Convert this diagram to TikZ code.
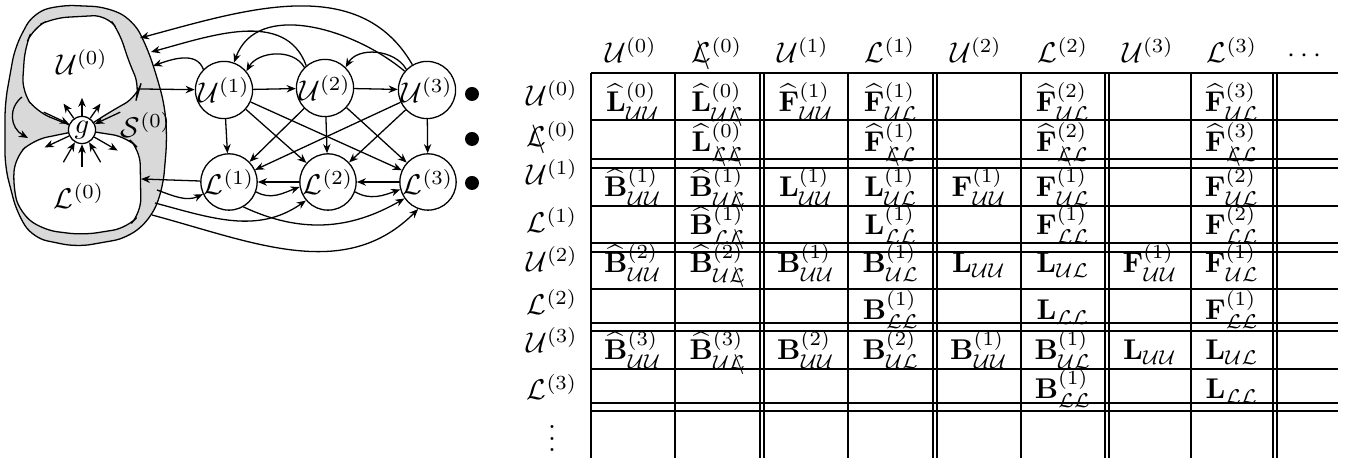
\documentclass[tikz,border=0pt]{standalone}
\usepackage{amsmath,amssymb,mathtools}
\usepackage{tikz}
\usetikzlibrary{arrows.meta,positioning,calc}

\newcommand{\Ucal}{\mathcal{U}}
\newcommand{\Lcal}{\mathcal{L}}
\newcommand{\Lcut}{\mathrlap{\mkern3mu{\setminus}}\mathcal{L}}
\newcommand{\Lhat}{\widehat{\mathbf{L}}}
\newcommand{\Fhat}{\widehat{\mathbf{F}}}
\newcommand{\Bhat}{\widehat{\mathbf{B}}}
\newcommand{\Lbf}{\mathbf{L}}
\newcommand{\Fbf}{\mathbf{F}}
\newcommand{\Bbf}{\mathbf{B}}

\begin{document}
\begin{tikzpicture}[x=0.35pt,y=0.35pt,
    blob/.style={circle, draw, fill=white, line width=0.45pt, minimum size=18.5pt, inner sep=0pt},
    gnode/.style={circle, draw, fill=white, line width=0.45pt, minimum size=9.5pt, inner sep=0pt},
    arr/.style={-{Stealth[length=3.2pt,width=2.6pt]}, line width=0.45pt},
    blobarea/.style={draw, line width=0.45pt, rounded corners=5pt},
    cell/.style={anchor=base, inner sep=0pt},
    tabline/.style={line width=0.7pt},
    bullet/.style={circle, fill, minimum size=4.9pt, inner sep=0pt},
]
    \useasboundingbox (0,0) rectangle (1346,-458);

    % the block S^(0) with its parts U^(0) and L^(0)
    \draw[blobarea, fill=black!15] (33,-13) -- (60,-5) -- (107,-7) -- (133,-20) -- (147,-47) -- (157,-77) -- (165,-107) -- (167,-140) -- (163,-187) -- (152,-217) -- (128,-238) -- (77,-247) -- (33,-238) -- (17,-213) -- (5,-167) -- (5,-103) -- (15,-47) -- cycle;
    \draw[blobarea, fill=white] (22,-92) -- (25,-47) -- (33,-28) -- (53,-18) -- (107,-15) -- (120,-33) -- (128,-60) -- (140,-87) -- (137,-97) -- (113,-110) -- (82,-130) -- (37,-112) -- cycle;
    \draw[blobarea, fill=white] (82,-130) -- (127,-137) -- (140,-150) -- (141,-213) -- (127,-228) -- (83,-235) -- (43,-230) -- (20,-213) -- (13,-187) -- (15,-157) -- (33,-140) -- cycle;
    \node (U0) at (82,-62) {$\Ucal^{(0)}$};
    \node (L0) at (79,-196) {$\Lcal^{(0)}$};
    \node (S0) at (146,-125) {$\mathcal{S}^{(0)}$};
    \node[gnode] (g) at (82,-130) {$g$};

    \foreach \a in {55,90,125} \draw[arr] (g.\a) -- ++(\a:18);
    \foreach \a in {205,330} \draw[arr] (g.\a) -- ++(\a:27);
    \foreach \a in {25,155} \draw[arr] ($(g.\a)+(\a:28)$) -- (g.\a);
    \foreach \a in {240,270,300} \draw[arr] ($(g.\a)+(\a:23)$) -- (g.\a);

    \coordinate (a1) at (22,-97);
    \coordinate (a2) at (28,-138);
    \draw[arr] (a1) .. controls (8,-108) and (10,-128) .. (a2);

    % the levels 1..3
    \node[blob] (U1) at (224,-90) {$\Ucal^{(1)}$};
    \node[blob] (U2) at (325,-88) {$\Ucal^{(2)}$};
    \node[blob] (U3) at (427,-90) {$\Ucal^{(3)}$};
    \node[blob] (L1) at (229,-182) {$\Lcal^{(1)}$};
    \node[blob] (L2) at (328,-182) {$\Lcal^{(2)}$};
    \node[blob] (L3) at (428,-182) {$\Lcal^{(3)}$};
    \node[bullet] (d1) at (472,-94) {};
    \node[bullet] (d2) at (472,-139) {};
    \node[bullet] (d3) at (472,-183) {};

    \coordinate (u0r) at (140,-89);
    \coordinate (l0r) at (141,-179);
    \coordinate (s1) at (153,-66);
    \coordinate (s2) at (151,-52);
    \coordinate (s3) at (140,-38);
    \coordinate (t1) at (157,-190);
    \coordinate (t2) at (155,-203);
    \coordinate (t3) at (152,-215);

    \draw[arr] (u0r) -- (U1);
    \draw[arr] (U1) -- (U2);
    \draw[arr] (U2) -- (U3);
    \draw[arr] (L1) -- (l0r);
    \draw[arr] (L2) -- (L1);
    \draw[arr] (L3) -- (L2);
    \foreach \i in {1,2,3}
        \foreach \j in {1,2,3}
            \draw[arr] (U\i) -- (L\j);

    \draw[arr] (U1.135) to[out=110, in=20] (s1);
    \draw[arr] (U2.130) to[out=110, in=15] (s2);
    \draw[arr] (U3.120) to[out=120, in=15] (s3);
    \draw[arr] (U2.135) to[out=120, in=60] (U1.40);
    \draw[arr] (U3.140) to[out=140, in=70] (U1.70);
    \draw[arr] (U3.135) to[out=120, in=60] (U2.45);

    \draw[arr] (t1) to[out=-20, in=205] (L1.205);
    \draw[arr] (t2) to[out=-15, in=215] (L2.220);
    \draw[arr] (t3) to[out=-15, in=225] (L3.250);
    \draw[arr] (L1.-20) to[out=-30, in=200] (L2.190);
    \draw[arr] (L1.-60) to[out=-25, in=210] (L3.215);
    \draw[arr] (L2.-20) to[out=-30, in=200] (L3.195);

    % the block matrix
    \foreach \y in {73,120,159,168,206,243,252,289,323,331,369,403,411}
        \draw[tabline] (591,-\y) -- (1338,-\y);
    \foreach \x in {591,675,760,764,848,933,937,1021,1105,1109,1191,1273,1277}
        \draw[tabline] (\x,-73) -- (\x,-458);

    \node[cell] (hU0) at (631,-63) {$\Ucal^{(0)}$};
    \node[cell] (hL0) at (717,-63) {$\Lcut^{(0)}$};
    \node[cell] (hU1) at (803,-63) {$\Ucal^{(1)}$};
    \node[cell] (hL1) at (890,-63) {$\Lcal^{(1)}$};
    \node[cell] (hU2) at (976,-63) {$\Ucal^{(2)}$};
    \node[cell] (hL2) at (1063,-63) {$\Lcal^{(2)}$};
    \node[cell] (hU3) at (1148,-63) {$\Ucal^{(3)}$};
    \node[cell] (hL3) at (1232,-63) {$\Lcal^{(3)}$};
    \node[cell] (hdots) at (1307,-63) {$\cdots$};

    \node[cell] (rU0) at (552,-106) {$\Ucal^{(0)}$};
    \node[cell] (rL0) at (552,-147) {$\Lcut^{(0)}$};
    \node[cell] (rU1) at (552,-185) {$\Ucal^{(1)}$};
    \node[cell] (rL1) at (552,-233) {$\Lcal^{(1)}$};
    \node[cell] (rU2) at (552,-272) {$\Ucal^{(2)}$};
    \node[cell] (rL2) at (552,-315) {$\Lcal^{(2)}$};
    \node[cell] (rU3) at (552,-353) {$\Ucal^{(3)}$};
    \node[cell] (rL3) at (552,-400) {$\Lcal^{(3)}$};
    \node (rdots) at (552,-430) {$\vdots$};

    \node[cell] (e11) at (633,-112) {$\Lhat^{(0)}_{\Ucal\Ucal}$};
    \node[cell] (e12) at (718,-112) {$\Lhat^{(0)}_{\Ucal\Lcut}$};
    \node[cell] (e13) at (806,-112) {$\Fhat^{(1)}_{\Ucal\Ucal}$};
    \node[cell] (e14) at (891,-112) {$\Fhat^{(1)}_{\Ucal\Lcal}$};
    \node[cell] (e16) at (1063,-112) {$\Fhat^{(2)}_{\Ucal\Lcal}$};
    \node[cell] (e18) at (1232,-112) {$\Fhat^{(3)}_{\Ucal\Lcal}$};

    \node[cell] (e22) at (718,-152) {$\Lhat^{(0)}_{\Lcut\Lcut}$};
    \node[cell] (e24) at (891,-152) {$\Fhat^{(1)}_{\Lcut\Lcal}$};
    \node[cell] (e26) at (1063,-152) {$\Fhat^{(2)}_{\Lcut\Lcal}$};
    \node[cell] (e28) at (1232,-152) {$\Fhat^{(3)}_{\Lcut\Lcal}$};

    \node[cell] (e31) at (633,-197) {$\Bhat^{(1)}_{\Ucal\Ucal}$};
    \node[cell] (e32) at (718,-197) {$\Bhat^{(1)}_{\Ucal\Lcut}$};
    \node[cell] (e33) at (806,-197) {$\Lbf^{(1)}_{\Ucal\Ucal}$};
    \node[cell] (e34) at (891,-197) {$\Lbf^{(1)}_{\Ucal\Lcal}$};
    \node[cell] (e35) at (979,-197) {$\Fbf^{(1)}_{\Ucal\Ucal}$};
    \node[cell] (e36) at (1063,-197) {$\Fbf^{(1)}_{\Ucal\Lcal}$};
    \node[cell] (e38) at (1232,-197) {$\Fbf^{(2)}_{\Ucal\Lcal}$};

    \node[cell] (e42) at (718,-235) {$\Bhat^{(1)}_{\Lcal\Lcut}$};
    \node[cell] (e44) at (891,-235) {$\Lbf^{(1)}_{\Lcal\Lcal}$};
    \node[cell] (e46) at (1063,-235) {$\Fbf^{(1)}_{\Lcal\Lcal}$};
    \node[cell] (e48) at (1232,-235) {$\Fbf^{(2)}_{\Lcal\Lcal}$};

    \node[cell] (e51) at (633,-273) {$\Bhat^{(2)}_{\Ucal\Ucal}$};
    \node[cell] (e52) at (718,-273) {$\Bhat^{(2)}_{\Ucal\Lcut}$};
    \node[cell] (e53) at (806,-273) {$\Bbf^{(1)}_{\Ucal\Ucal}$};
    \node[cell] (e54) at (891,-273) {$\Bbf^{(1)}_{\Ucal\Lcal}$};
    \node[cell] (e55) at (979,-273) {$\Lbf_{\Ucal\Ucal}$};
    \node[cell] (e56) at (1063,-273) {$\Lbf_{\Ucal\Lcal}$};
    \node[cell] (e57) at (1150,-273) {$\Fbf^{(1)}_{\Ucal\Ucal}$};
    \node[cell] (e58) at (1232,-273) {$\Fbf^{(1)}_{\Ucal\Lcal}$};

    \node[cell] (e64) at (891,-320) {$\Bbf^{(1)}_{\Lcal\Lcal}$};
    \node[cell] (e66) at (1063,-320) {$\Lbf_{\Lcal\Lcal}$};
    \node[cell] (e68) at (1232,-320) {$\Fbf^{(1)}_{\Lcal\Lcal}$};

    \node[cell] (e71) at (633,-360) {$\Bhat^{(3)}_{\Ucal\Ucal}$};
    \node[cell] (e72) at (718,-360) {$\Bhat^{(3)}_{\Ucal\Lcut}$};
    \node[cell] (e73) at (806,-360) {$\Bbf^{(2)}_{\Ucal\Ucal}$};
    \node[cell] (e74) at (891,-360) {$\Bbf^{(2)}_{\Ucal\Lcal}$};
    \node[cell] (e75) at (979,-360) {$\Bbf^{(1)}_{\Ucal\Ucal}$};
    \node[cell] (e76) at (1063,-360) {$\Bbf^{(1)}_{\Ucal\Lcal}$};
    \node[cell] (e77) at (1150,-360) {$\Lbf_{\Ucal\Ucal}$};
    \node[cell] (e78) at (1232,-360) {$\Lbf_{\Ucal\Lcal}$};

    \node[cell] (e86) at (1063,-399) {$\Bbf^{(1)}_{\Lcal\Lcal}$};
    \node[cell] (e88) at (1232,-399) {$\Lbf_{\Lcal\Lcal}$};
\end{tikzpicture}
\end{document}
